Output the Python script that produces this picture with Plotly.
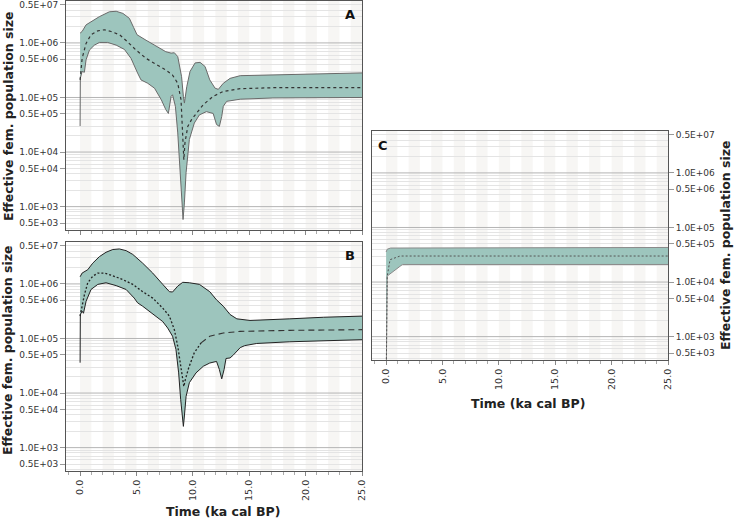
import plotly.graph_objects as go
import numpy as np

# ---------------- data ----------------
Y_TICK_VALS = [5e2, 1e3, 5e3, 1e4, 5e4, 1e5, 5e5, 1e6, 5e6]
Y_TICK_TEXT = ["0.5E+03", "1.0E+03", "0.5E+04", "1.0E+04", "0.5E+05",
               "1.0E+05", "0.5E+06", "1.0E+06", "0.5E+07"]
Y_DECADES = [1e3, 1e4, 1e5, 1e6]
X_TICK_VALS = [0, 5, 10, 15, 20, 25]
X_TICK_TEXT = ["0.0", "5.0", "10.0", "15.0", "20.0", "25.0"]

# Panel A
a_up_t = [0, 0.18, 0.53, 1.12, 1.7, 2.6, 3.2, 3.8, 4.37, 4.75, 5.05, 5.85, 6.74, 7.6, 8.07, 8.36, 8.66,
          9.0, 9.16, 9.25, 9.46, 9.75, 10.2, 10.64, 11.08, 11.5, 11.97, 12.26, 12.7, 13.3, 14.2, 17.1, 21.6, 25]
a_up = [1.51e6, 1.62e6, 2.14e6, 2.57e6, 3.02e6, 3.72e6, 3.80e6, 3.47e6, 2.82e6, 1.91e6, 1.41e6, 1.12e6,
        8.7e5, 6.9e5, 6.5e5, 6.6e5, 5.6e5, 2.4e5, 1.05e5, 7.9e4, 1.58e5, 3.0e5, 4.3e5, 4.4e5, 3.7e5,
        2.1e5, 1.48e5, 1.41e5, 1.82e5, 2.24e5, 2.51e5, 2.57e5, 2.69e5, 2.82e5]
a_lo_t = [0, 0.02, 0.18, 0.38, 0.53, 0.83, 1.27, 1.71, 2.45, 3.2, 3.93, 4.52, 5.1, 5.4, 6.0, 6.6, 7.2,
          7.6, 7.83, 8.07, 8.2, 8.45, 8.66, 8.87, 9.04, 9.13, 9.25, 9.4, 9.69, 10.13, 10.58, 11.2, 11.8,
          12.1, 12.35, 12.56, 12.7, 13.0, 14.2, 17.1, 25]
a_lo = [3.0e4, 2.24e5, 3.0e5, 2.9e5, 4.9e5, 7.4e5, 9.1e5, 1.02e6, 1.02e6, 9.1e5, 7.6e5, 5.2e5, 2.8e5,
        2.1e5, 1.82e5, 1.48e5, 9.1e4, 6.0e4, 5.1e4, 1.05e5, 1.12e5, 6.9e4, 2.24e4, 4.2e3, 1.02e3, 5.8e2,
        1.17e3, 4.2e3, 1.7e4, 3.4e4, 4.8e4, 5.5e4, 5.1e4, 3.2e4, 2.95e4, 4.5e4, 6.9e4, 8.5e4, 9.3e4,
        9.8e4, 1.0e5]
a_md_t = [0, 0.18, 0.53, 0.97, 1.57, 2.15, 2.75, 3.5, 4.2, 4.96, 5.85, 6.74, 7.6, 8.2, 8.66, 8.95, 9.1,
          9.2, 9.3, 9.55, 9.9, 10.34, 10.93, 11.8, 12.7, 14.2, 17.1, 25]
a_md = [2.1e5, 5.2e5, 9.8e5, 1.41e6, 1.66e6, 1.74e6, 1.62e6, 1.41e6, 1.05e6, 7.4e5, 5.2e5, 4.0e5, 3.2e5,
        2.57e5, 1.82e5, 9.1e4, 2.24e4, 7.2e3, 1.48e4, 2.95e4, 4.0e4, 5.2e4, 7.4e4, 1.05e5, 1.29e5,
        1.45e5, 1.51e5, 1.51e5]

# Panel B
b_up_t = [0, 0.18, 0.68, 1.12, 1.71, 2.3, 2.9, 3.48, 4.08, 4.67, 5.55, 6.44, 7.33, 7.92, 8.2, 8.66, 9.1,
          9.69, 10.58, 11.5, 12.1, 12.7, 13.3, 13.9, 15.07, 15.96, 18.6, 21.6, 25]
b_up = [1.35e6, 1.58e6, 1.82e6, 2.4e6, 3.16e6, 3.8e6, 4.27e6, 4.37e6, 4.07e6, 3.47e6, 2.4e6, 1.58e6,
        9.8e5, 7.2e5, 7.1e5, 9.1e5, 1.07e6, 1.05e6, 9.8e5, 7.2e5, 5.1e5, 3.9e5, 2.75e5, 2.29e5, 2.14e5,
        2.19e5, 2.29e5, 2.45e5, 2.57e5]
b_lo_t = [0, 0.02, 0.18, 0.3, 0.53, 0.97, 1.57, 2.3, 3.2, 4.08, 4.8, 5.1, 5.55, 6.1, 6.7, 7.33, 7.77,
          8.2, 8.5, 8.74, 8.92, 9.07, 9.16, 9.25, 9.4, 9.69, 10.28, 10.93, 11.5, 12.1, 12.35, 12.56,
          12.77, 12.94, 13.3, 13.6, 14.2, 14.6, 15.66, 18.6, 25]
b_lo = [3.6e4, 2.75e5, 3.16e5, 2.9e5, 4.8e5, 7.9e5, 9.8e5, 1.05e6, 9.3e5, 7.9e5, 5.5e5, 4.5e5, 3.9e5,
        3.16e5, 2.51e5, 2.04e5, 1.55e5, 1.1e5, 6.3e4, 2.34e4, 7.6e3, 3.0e3, 2.45e3, 3.8e3, 8.7e3,
        1.55e4, 2.34e4, 3.1e4, 3.55e4, 3.8e4, 2.7e4, 1.82e4, 2.7e4, 4.3e4, 4.4e4, 5.0e4, 6.8e4, 7.4e4,
        8.1e4, 8.7e4, 9.5e4]
b_md_t = [0, 0.18, 0.38, 0.68, 1.12, 1.57, 2.15, 2.9, 3.79, 4.67, 5.55, 6.44, 7.33, 7.92, 8.36, 8.66,
          8.9, 9.1, 9.2, 9.34, 9.63, 10.13, 10.73, 11.5, 12.7, 14.2, 18.6, 25]
b_md = [2.57e5, 3.9e5, 6.3e5, 1.05e6, 1.38e6, 1.58e6, 1.58e6, 1.41e6, 1.2e6, 9.8e5, 7.2e5, 5.5e5, 3.6e5,
        2.57e5, 1.45e5, 7.2e4, 3.1e4, 1.55e4, 1.32e4, 1.78e4, 2.9e4, 5.5e4, 8.3e4, 1.1e5, 1.26e5,
        1.35e5, 1.41e5, 1.45e5]

# Panel C
c_up_t = [0, 0.1, 0.4, 1.5, 25]
c_up = [3.55e4, 4.0e4, 4.2e4, 4.2e4, 4.3e4]
c_lo_t = [0, 0.05, 0.1, 1.45, 25]
c_lo = [1e2, 7.9e3, 1.29e4, 2.1e4, 2.1e4]
c_md_t = [0, 0.1, 0.35, 1.24, 25]
c_md = [1e2, 1.29e4, 2.57e4, 3.0e4, 3.0e4]

# ---------------- geometry helpers ----------------
W, H = 734, 519


def px(x):
    return x / W


def py(y):
    return (H - y) / H


FILL = "#9dc5bd"
FONT = "DejaVu Sans"

fig = go.Figure()

panels = [
    dict(xa="x", ya="y", up=(a_up_t, a_up), lo=(a_lo_t, a_lo), edge="#6a6a6a"),
    dict(xa="x2", ya="y2", up=(b_up_t, b_up), lo=(b_lo_t, b_lo), edge="#222222"),
    dict(xa="x3", ya="y3", up=(c_up_t, c_up), lo=(c_lo_t, c_lo), edge="#8a8a8a"),
]
for p in panels:
    fig.add_trace(go.Scatter(x=p["lo"][0], y=p["lo"][1], xaxis=p["xa"], yaxis=p["ya"], mode="lines",
                             line=dict(color=p["edge"], width=1), hoverinfo="skip"))
    fig.add_trace(go.Scatter(x=p["up"][0], y=p["up"][1], xaxis=p["xa"], yaxis=p["ya"], mode="lines",
                             fill="tonexty", fillcolor=FILL,
                             line=dict(color=p["edge"], width=1), hoverinfo="skip"))

# medians
fig.add_trace(go.Scatter(x=a_md_t, y=a_md, xaxis="x", yaxis="y", mode="lines",
                         line=dict(color="#333333", width=1.2, dash="3px,3px"), hoverinfo="skip"))
split = 22
fig.add_trace(go.Scatter(x=b_md_t[:split + 1], y=b_md[:split + 1], xaxis="x2", yaxis="y2", mode="lines",
                         line=dict(color="#222222", width=1.3, dash="2px,2px"), hoverinfo="skip"))
fig.add_trace(go.Scatter(x=b_md_t[split:], y=b_md[split:], xaxis="x2", yaxis="y2", mode="lines",
                         line=dict(color="#333333", width=1.1, dash="6px,4px"), hoverinfo="skip"))
fig.add_trace(go.Scatter(x=c_md_t, y=c_md, xaxis="x3", yaxis="y3", mode="lines",
                         line=dict(color="#555555", width=1, dash="2px,2px"), hoverinfo="skip"))

# minor grid values (2..9 x 10^n)
MINOR = [m * 10 ** e for e in range(2, 7) for m in range(2, 10)]

yrange = [np.log10(373), np.log10(5.86e6)]
ycommon = dict(type="log", range=yrange, tickmode="array", tickvals=Y_TICK_VALS, ticktext=Y_TICK_TEXT,
               ticks="outside", ticklen=5, tickcolor="#999999", showgrid=False, zeroline=False,
               showline=True, linecolor="#555555", linewidth=1, mirror=True, automargin=False,
               ticklabeloverflow="allow",
               tickfont=dict(family=FONT, size=9, color="#333333"),
               minor=dict(tickmode="array", tickvals=MINOR, showgrid=True, gridcolor="#e4e4e4",
                          gridwidth=1, ticks=""))
xcommon = dict(range=[-1.25, 25], tickmode="array", tickvals=X_TICK_VALS, ticktext=X_TICK_TEXT,
               tickangle=-90, ticks="outside", ticklen=4, tickcolor="#888888", showgrid=False,
               zeroline=False, showline=True, linecolor="#555555", linewidth=1, mirror=True,
               automargin=False, ticklabeloverflow="allow",
               tickfont=dict(family=FONT, size=9.5, color="#333333"),
               minor=dict(dtick=1, tick0=0, ticks="outside", ticklen=3, tickcolor="#aaaaaa",
                          showgrid=False))

fig.update_layout(
    width=W, height=H, margin=dict(l=0, r=0, t=0, b=0, autoexpand=False),
    paper_bgcolor="white", plot_bgcolor="white", showlegend=False,
    font=dict(family=FONT, size=9, color="#333333"),
    xaxis=dict(xcommon, domain=[px(66), px(362)], anchor="y", showticklabels=False),
    yaxis=dict(ycommon, domain=[py(230), py(1)], anchor="x"),
    xaxis2=dict(xcommon, domain=[px(66), px(362)], anchor="y2"),
    yaxis2=dict(ycommon, domain=[py(471), py(242)], anchor="x2"),
    xaxis3=dict(xcommon, domain=[px(372), px(668)], anchor="y3"),
    yaxis3=dict(ycommon, domain=[py(360), py(131)], anchor="x3", side="right"),
)

# vertical stripes and decade lines
shapes = []
for xa, ya in [("x", "y"), ("x2", "y2"), ("x3", "y3")]:
    for k in range(0, 25, 2):
        shapes.append(dict(type="rect", xref=xa, yref=ya + " domain", x0=k, x1=k + 1, y0=0, y1=1,
                           fillcolor="rgba(215,208,198,0.2)", line=dict(width=0), layer="below"))
    for v in Y_DECADES:
        shapes.append(dict(type="line", xref=xa + " domain", yref=ya, x0=0, x1=1, y0=v, y1=v,
                           line=dict(color="#b4b4b4", width=1), layer="below"))
fig.update_layout(shapes=shapes)

TITLE_FONT = dict(family=FONT, size=12.5, color="#222222")
ann = [
    dict(text="Effective fem. population size", x=px(8), y=py(116), textangle=-90),
    dict(text="Effective fem. population size", x=px(8), y=py(350), textangle=-90),
    dict(text="Effective fem. population size", x=px(726), y=py(245), textangle=-90),
    dict(text="Time (ka cal BP)", x=px(223), y=py(511), textangle=0),
    dict(text="Time (ka cal BP)", x=px(528), y=py(403), textangle=0),
]
for a in ann:
    fig.add_annotation(xref="paper", yref="paper", showarrow=False, xanchor="center", yanchor="middle",
                       font=dict(TITLE_FONT, weight="bold"), **a)
for lab, x, y in [("A", 350, 14), ("B", 350, 255), ("C", 383, 145)]:
    fig.add_annotation(xref="paper", yref="paper", showarrow=False, xanchor="center", yanchor="middle",
                       text="<b>%s</b>" % lab, x=px(x), y=py(y),
                       font=dict(family=FONT, size=13, color="#111111"))

fig.write_html("out.html", config={"displayModeBar": False},
               post_script="document.body.style.margin='0';document.body.style.overflow='hidden';")
